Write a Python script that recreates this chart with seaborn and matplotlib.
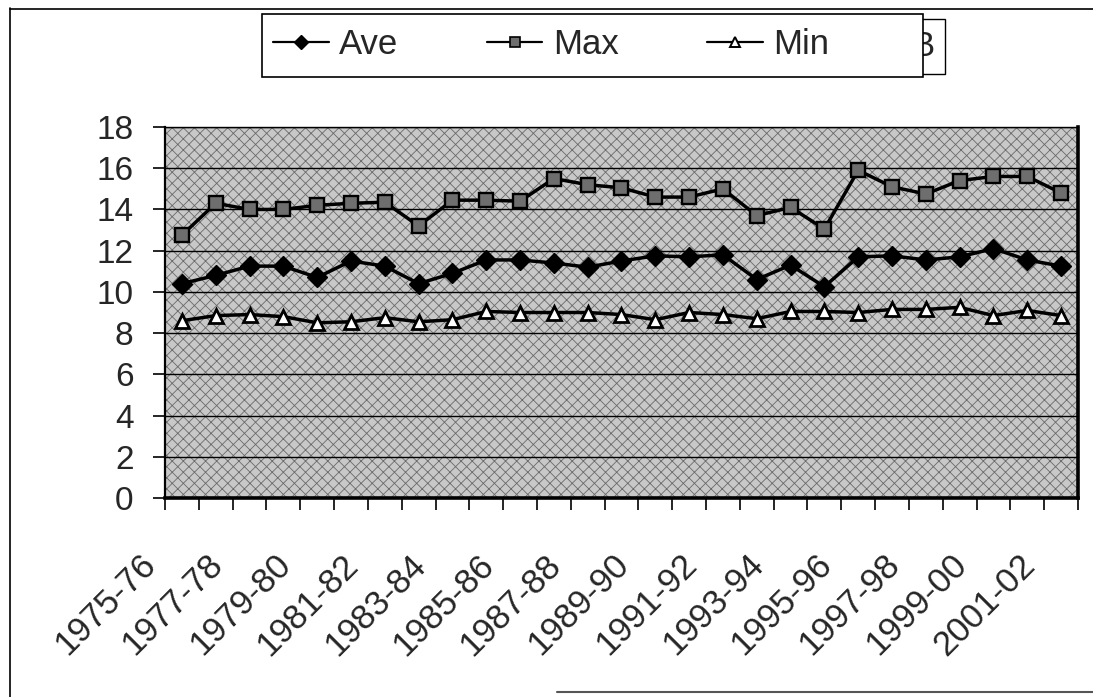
import matplotlib
matplotlib.use('Agg')
import matplotlib.pyplot as plt
import matplotlib.transforms as mtransforms
from matplotlib.patches import Rectangle
from matplotlib.lines import Line2D
import numpy as np
import pandas as pd
import seaborn as sns

seasons = ["1975-76", "1976-77", "1977-78", "1978-79", "1979-80", "1980-81", "1981-82",
           "1982-83", "1983-84", "1984-85", "1985-86", "1986-87", "1987-88", "1988-89",
           "1989-90", "1990-91", "1991-92", "1992-93", "1993-94", "1994-95", "1995-96",
           "1996-97", "1997-98", "1998-99", "1999-00", "2000-01", "2001-02"]
ave = [10.4, 10.8, 11.25, 11.25, 10.7, 11.5, 11.25, 10.4, 10.9, 11.55, 11.55, 11.4, 11.2, 11.5,
       11.75, 11.7, 11.8, 10.6, 11.3, 10.25, 11.7, 11.75, 11.55, 11.7, 12.1, 11.55, 11.25]
mx = [12.75, 14.3, 14.0, 14.0, 14.2, 14.3, 14.35, 13.2, 14.45, 14.45, 14.4, 15.5, 15.2, 15.05,
      14.6, 14.6, 15.0, 13.7, 14.1, 13.05, 15.9, 15.1, 14.75, 15.4, 15.6, 15.6, 14.8]
mn = [8.6, 8.85, 8.9, 8.8, 8.5, 8.55, 8.75, 8.55, 8.65, 9.05, 9.0, 9.0, 9.0, 8.9,
      8.65, 9.0, 8.9, 8.7, 9.05, 9.05, 9.0, 9.15, 9.15, 9.25, 8.85, 9.1, 8.85]
series_names = ["Ave", "Max", "Min"]
yticks = [0, 2, 4, 6, 8, 10, 12, 14, 16, 18]

sns.set_style('white')
plt.rcParams['font.family'] = ['Liberation Sans', 'DejaVu Sans']
plt.rcParams['hatch.linewidth'] = 0.6

W, H = 1093, 697
fig = plt.figure(figsize=(W / 100, H / 100), dpi=100)


def fx(px):
    return px / W


def fy(py):
    return 1 - py / H


ax = fig.add_axes([fx(165), fy(498), fx(1078) - fx(165), fy(127) - fy(498)])

df = pd.DataFrame({'idx': np.arange(len(seasons)), 'season': seasons,
                   'Ave': ave, 'Max': mx, 'Min': mn})

# patterned background
ax.set_facecolor('#c8c8c8')
bg = Rectangle((0, 0), 1, 1, transform=ax.transAxes, facecolor='none',
               hatch='xxx', edgecolor='#6a6a6a', linewidth=0, zorder=0)
ax.add_patch(bg)

styles = {
    'Ave': dict(marker='D', markersize=10, markerfacecolor='black', markeredgecolor='black', markeredgewidth=1),
    'Max': dict(marker='s', markersize=9.5, markerfacecolor='#6e6e6e', markeredgecolor='black', markeredgewidth=1.7),
    'Min': dict(marker='^', markersize=10.5, markerfacecolor='white', markeredgecolor='black', markeredgewidth=2.0),
}
for name in series_names:
    sns.lineplot(data=df, x='idx', y=name, ax=ax, color='black', linewidth=2.5,
                 zorder=3, **styles[name])

ax.set_xlabel('')
ax.set_ylabel('')
ax.set_xlim(-0.5, len(seasons) - 0.5)
ax.set_ylim(0, 18)
ax.set_yticks(yticks)
ax.set_yticklabels([str(v) for v in yticks])
ax.set_axisbelow(True)
ax.yaxis.grid(True, color='black', linewidth=1.0)
ax.xaxis.grid(False)

ax.set_xticks(np.arange(-0.5, len(seasons), 1.0))
ax.set_xticklabels([])
ax.set_xticks(np.arange(0, len(seasons), 2), minor=True)
ax.set_xticklabels(seasons[::2], minor=True)
ax.tick_params(axis='x', which='major', direction='out', length=8.6, width=1.2, color='black', bottom=True)
ax.tick_params(axis='x', which='minor', length=0, pad=36, labelsize=25, bottom=True)
ax.tick_params(axis='y', direction='out', length=8.6, width=1.2, color='black', pad=14, labelsize=24, left=True)

offset = mtransforms.ScaledTranslation(-0.20, 0, fig.dpi_scale_trans)
for lbl in ax.get_xticklabels(minor=True):
    lbl.set_rotation(45)
    lbl.set_ha('right')
    lbl.set_va('top')
    lbl.set_transform(lbl.get_transform() + offset)

for side, lw in [('left', 1.6), ('bottom', 2.6), ('right', 2.6), ('top', 1.0)]:
    ax.spines[side].set_visible(True)
    ax.spines[side].set_color('black')
    ax.spines[side].set_linewidth(lw)

# outer chart border
fig.add_artist(Line2D([fx(10), fx(10)], [fy(8), fy(697)], transform=fig.transFigure, color='black', lw=1.2))
fig.add_artist(Line2D([fx(10), fx(1093)], [fy(9), fy(9)], transform=fig.transFigure, color='black', lw=1.2))
fig.add_artist(Line2D([fx(557), fx(1093)], [fy(692), fy(692)], transform=fig.transFigure, color='#555555', lw=1.5))

# small partially hidden box behind the legend
fig.add_artist(Rectangle((fx(900), fy(74)), fx(945) - fx(900), fy(19) - fy(74), transform=fig.transFigure,
                         facecolor='white', edgecolor='black', lw=1.0, zorder=1))
fig.text(fx(934), fy(46), 'B', ha='right', va='center', fontsize=25, zorder=2)

# legend frame
fig.add_artist(Rectangle((fx(262), fy(77)), fx(923) - fx(262), fy(14) - fy(77), transform=fig.transFigure,
                         facecolor='white', edgecolor='black', lw=1.2, zorder=3))

handles = [
    Line2D([], [], color='black', lw=1.6, marker='D', markersize=7, markerfacecolor='black', markeredgecolor='black'),
    Line2D([], [], color='black', lw=1.6, marker='s', markersize=7, markerfacecolor='#6e6e6e', markeredgecolor='black', markeredgewidth=1.2),
    Line2D([], [], color='black', lw=1.6, marker='^', markersize=7, markerfacecolor='white', markeredgecolor='black', markeredgewidth=1.4),
]
leg = fig.legend(handles, series_names, ncol=3, loc='center left',
                 bbox_to_anchor=(fx(273), fy(45)), frameon=False, fontsize=25,
                 handlelength=1.6, handletextpad=0.3, columnspacing=2.55,
                 borderpad=0, borderaxespad=0)
leg.set_zorder(5)

fig.savefig('out.png', dpi=100)
